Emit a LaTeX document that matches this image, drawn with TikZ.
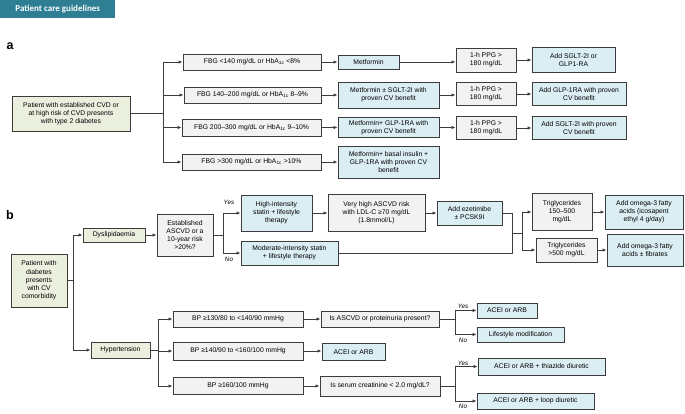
\documentclass[tikz,border=0pt]{standalone}
\usepackage{fontspec}
\setmainfont{Liberation Sans}
\newfontfamily\hdrfont{Carlito}
\usetikzlibrary{arrows.meta}
\definecolor{edgec}{HTML}{3C3C3C}
\definecolor{grayfill}{HTML}{F2F2F2}
\definecolor{bluefill}{HTML}{DBEEF4}
\definecolor{greenfill}{HTML}{EBF0DE}
\definecolor{teal}{HTML}{2E7F93}
\tikzset{
  bx/.style={draw=edgec, line width=0.9pt, inner sep=1pt, align=center,
    font=\fontsize{6.8}{8.2}\selectfont},
  gbox/.style={bx, fill=grayfill},
  bbox/.style={bx, fill=bluefill},
  grbox/.style={bx, fill=greenfill},
  ln/.style={draw=edgec, line width=0.75pt},
  arr/.style={ln, -{Latex[length=4pt,width=3.4pt]}},
  yn/.style={font=\fontsize{6.3}{7}\itshape\selectfont, inner sep=0pt},
  wh/.style 2 args={minimum width=#1pt, minimum height=#2pt}
}
\begin{document}
\begin{tikzpicture}[x=1pt,y=-1pt]
\useasboundingbox (0,0) rectangle (685,414);
% header
\node[fill=teal, minimum width=115pt, minimum height=18pt, inner sep=0pt, anchor=north west,
  text=white, font=\hdrfont\bfseries\fontsize{9}{10}\selectfont] (hdr) at (0,0) {Patient care guidelines};
\node[font=\bfseries\fontsize{12.5}{12.5}\selectfont, inner sep=0pt] (la) at (10,46) {a};
\node[font=\bfseries\fontsize{12.5}{12.5}\selectfont, inner sep=0pt] (lb) at (10,215) {b};

% ---------- part a ----------
\node[grbox, wh={118}{35}] (ma) at (71,113.5) {Patient with established CVD or\\at high risk of CVD presents\\with type 2 diabetes};
\node[gbox, wh={138}{16}] (f1) at (252,62) {FBG <140 mg/dL or HbA\textsubscript{1c} <8\%};
\node[gbox, wh={137}{16}] (f2) at (252.5,95) {FBG 140–200 mg/dL or HbA\textsubscript{1c} 8–9\%};
\node[gbox, wh={139}{17}] (f3) at (251.5,127.5) {FBG 200–300 mg/dL or HbA\textsubscript{1c} 9–10\%};
\node[gbox, wh={139}{16}] (f4) at (251.5,162) {FBG >300 mg/dL or HbA\textsubscript{1c} >10\%};
\node[bbox, wh={61}{14}] (m1) at (368.5,62) {Metformin};
\node[bbox, wh={101}{26}] (m2) at (388.5,95) {Metformin ± SGLT-2I with\\proven CV benefit};
\node[bbox, wh={101}{20}] (m3) at (388.5,127.5) {Metformin+ GLP-1RA with\\proven CV benefit};
\node[bbox, wh={101}{32}] (m4) at (388.5,162) {Metformin+ basal insulin +\\GLP-1RA with proven CV\\benefit};
\node[gbox, wh={60}{24}] (p1) at (486,60) {1-h PPG >\\180 mg/dL};
\node[gbox, wh={60}{23}] (p2) at (486,94) {1-h PPG >\\180 mg/dL};
\node[gbox, wh={60}{23}] (p3) at (486,128) {1-h PPG >\\180 mg/dL};
\node[bbox, wh={83}{25}] (a1) at (573.5,60) {Add SGLT-2I or\\GLP1-RA};
\node[bbox, wh={94}{23}] (a2) at (579,94) {Add GLP-1RA with proven\\CV benefit};
\node[bbox, wh={94}{23}] (a3) at (579,128) {Add SGLT-2I with proven\\CV benefit};

\coordinate (ta) at (163,113.5);
\draw[ln] (ma.east) -- (ta);
\draw[ln] (ta |- f1.west) -- (ta |- f4.west);
\foreach \n in {f1,f2,f3,f4} \draw[arr] (ta |- \n.west) -- (\n.west);
\draw[arr] (f1.east) -- (m1.west);
\draw[arr] (f2.east) -- (m2.west);
\draw[arr] (f3.east) -- (m3.west);
\draw[arr] (f4.east) -- (m4.west);
\draw[arr] (m1.east) -- (m1.east -| p1.west);
\draw[arr] (m2.east) -- (m2.east -| p2.west);
\draw[arr] (m3.east) -- (m3.east -| p3.west);
\draw[arr] (p1.east) -- (a1.west);
\draw[arr] (p2.east) -- (a2.west);
\draw[arr] (p3.east) -- (a3.west);

% ---------- part b ----------
\node[grbox, wh={56}{53}] (mb) at (39,280.5) {Patient with\\diabetes\\presents\\with CV\\comorbidity};
\node[grbox, wh={62}{14}] (dys) at (114,235) {Dyslipidaemia};
\node[grbox, wh={59}{16}] (hyp) at (120.5,350) {Hypertension};
\coordinate (tb) at (73,280.5);
\draw[ln] (mb.east) -- (tb);
\draw[ln] (tb |- dys.west) -- (tb |- hyp.west);
\draw[arr] (tb |- dys.west) -- (dys.west);
\draw[arr] (tb |- hyp.west) -- (hyp.west);

\node[gbox, wh={56}{42}] (est) at (185,235) {Established\\ASCVD or a\\10-year risk\\>20\%?};
\draw[arr] (dys.east) -- (est.west);
\node[bbox, wh={71}{36}] (hi) at (276.5,213) {High-intensity\\statin + lifestyle\\therapy};
\node[bbox, wh={97}{24}] (mod) at (289.5,253) {Moderate-intensity statin\\+ lifestyle therapy};
\coordinate (sd) at (223,235);
\draw[ln] (est.east) -- (sd);
\draw[ln] (sd |- hi.west) -- (sd |- mod.west);
\draw[arr] (sd |- hi.west) -- (hi.west);
\draw[arr] (sd |- mod.west) -- (mod.west);
\node[yn, anchor=south] (yes1) at (229,205) {Yes};
\node[yn, anchor=north] (no1) at (229,257) {No};

\node[gbox, wh={97}{37}] (vh) at (376.5,213) {Very high ASCVD risk\\with LDL-C ≥70 mg/dL\\(1.8mmol/L)};
\node[bbox, wh={65}{24}] (eze) at (469.5,213) {Add ezetimibe\\± PCSK9I};
\draw[arr] (hi.east) -- (vh.west);
\draw[arr] (vh.east) -- (eze.west);
\coordinate (mg) at (512,233);
\coordinate (sp) at (522,233);
\draw[ln] (eze.east) -- (eze.east -| mg) -- (mod.east -| mg) -- (mod.east);
\draw[ln] (mg) -- (sp);
\node[gbox, wh={60}{37}] (tg1) at (562,212) {Triglycerides\\150–500\\mg/dL};
\node[gbox, wh={61}{24}] (tg2) at (566.5,250) {Triglycerides\\>500 mg/dL};
\node[bbox, wh={78}{34}] (om1) at (644,212) {Add omega-3 fatty\\acids (icosapent\\ethyl 4 g/day)};
\node[bbox, wh={76}{32}] (om2) at (645,250) {Add omega-3 fatty\\acids ± fibrates};
\draw[ln] (sp |- tg1.west) -- (sp |- tg2.west);
\draw[arr] (sp |- tg1.west) -- (tg1.west);
\draw[arr] (sp |- tg2.west) -- (tg2.west);
\draw[arr] (tg1.east) -- (om1.west);
\draw[arr] (tg2.east) -- (om2.west);

% hypertension
\node[gbox, wh={130}{16}] (bp1) at (238,319) {BP ≥130/80 to <140/90 mmHg};
\node[gbox, wh={130}{18}] (bp2) at (238,351) {BP ≥140/90 to <160/100 mmHg};
\node[gbox, wh={130}{17}] (bp3) at (238,386) {BP ≥160/100 mmHg};
\coordinate (th) at (158,351);
\draw[ln] (hyp.east) -- (hyp.east -| th);
\draw[ln] (th |- bp1.west) -- (th |- bp3.west);
\foreach \n in {bp1,bp2,bp3} \draw[arr] (th |- \n.west) -- (\n.west);
\node[gbox, wh={118}{16}] (asc) at (380,319) {Is ASCVD or proteinuria present?};
\node[bbox, wh={63}{17}] (acei) at (353.5,352) {ACEI or ARB};
\node[gbox, wh={120}{20}] (ser) at (380,386) {Is serum creatinine < 2.0 mg/dL?};
\draw[arr] (bp1.east) -- (asc.west);
\draw[arr] (bp2.east) -- (bp2.east -| acei.west);
\draw[arr] (bp3.east) -- (ser.west);

\node[bbox, wh={60}{15}] (ac1) at (507,310.5) {ACEI or ARB};
\node[bbox, wh={87}{15}] (life) at (520.5,334.5) {Lifestyle modification};
\node[bbox, wh={127}{17}] (thz) at (541.5,366.5) {ACEI or ARB + thiazide diuretic};
\node[bbox, wh={117}{16}] (loop) at (535.5,401) {ACEI or ARB + loop diuretic};
\coordinate (s1) at (455,319);
\coordinate (s2) at (455,386);
\draw[ln] (asc.east) -- (s1);
\draw[ln] (s1 |- ac1.west) -- (s1 |- life.west);
\draw[arr] (s1 |- ac1.west) -- (ac1.west);
\draw[arr] (s1 |- life.west) -- (life.west);
\draw[ln] (ser.east) -- (s2);
\draw[ln] (s2 |- thz.west) -- (s2 |- loop.west);
\draw[arr] (s2 |- thz.west) -- (thz.west);
\draw[arr] (s2 |- loop.west) -- (loop.west);
\node[yn, anchor=south] (yes2) at (463,309) {Yes};
\node[yn, anchor=north] (no2) at (463,338) {No};
\node[yn, anchor=south] (yes3) at (463,365.5) {Yes};
\node[yn, anchor=north] (no3) at (463,404) {No};
\end{tikzpicture}
\end{document}
